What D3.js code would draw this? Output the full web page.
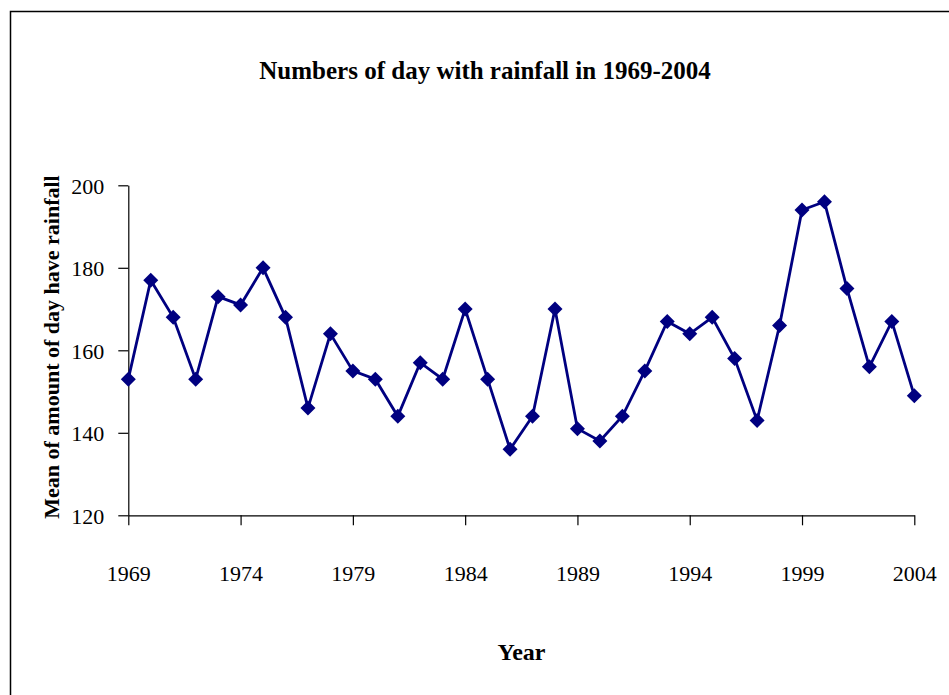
<!DOCTYPE html>
<html>
<head>
<meta charset="utf-8">
<script src="https://cdn.jsdelivr.net/npm/d3@7"></script>
<style>
  html, body { margin: 0; padding: 0; background: #fff; }
  svg { display: block; }
  text { font-family: "Liberation Serif", "Times New Roman", serif; fill: #000; }
</style>
</head>
<body>
<svg id="chart" width="949" height="695"></svg>
<script>
const years = d3.range(1969, 2005);
const values = [153, 177, 168, 153, 173, 171, 180, 168, 146, 164,
                155, 153, 144, 157, 153, 170, 153, 136, 144, 170,
                141, 138, 144, 155, 167, 164, 168, 158, 143, 166,
                194, 196, 175, 156, 167, 149];
const xTicks = [1969, 1974, 1979, 1984, 1989, 1994, 1999, 2004];
const yTicks = [120, 140, 160, 180, 200];
const titleText = "Numbers of day with rainfall in 1969-2004";
const xTitle = "Year";
const yTitle = "Mean of amount of day have rainfall";

const data = years.map((y, i) => ({ year: y, value: values[i] }));

const svg = d3.select("#chart");
const W = 949, H = 695;

// outer frame
svg.append("rect")
  .attr("x", 10.5).attr("y", 11.5)
  .attr("width", W + 20).attr("height", H + 20)
  .attr("fill", "none").attr("stroke", "#000").attr("stroke-width", 1.5);

const x = d3.scaleLinear().domain([1969, 2004]).range([128.3, 914.3]);
const y = d3.scaleLinear().domain([120, 200]).range([515.3, 185.3]);

// y axis
const yAxis = svg.append("g")
  .attr("transform", `translate(${x.range()[0]},0)`)
  .call(d3.axisLeft(y).tickValues(yTicks).tickSize(10).tickSizeOuter(0).tickPadding(14).tickFormat(d3.format("d")));
yAxis.select(".domain").attr("stroke", "#000").attr("stroke-width", 1.2);
yAxis.selectAll(".tick line").attr("stroke", "#000").attr("stroke-width", 1.2);
yAxis.selectAll(".tick text")
  .style("font-family", '"Liberation Serif", serif')
  .style("font-size", "22px").attr("dy", "0.35em");

// x axis
const xAxis = svg.append("g")
  .attr("transform", `translate(0,${y.range()[0]})`)
  .call(d3.axisBottom(x).tickValues(xTicks).tickSize(10).tickSizeOuter(0).tickFormat(d3.format("d")));
xAxis.select(".domain").attr("stroke", "#000").attr("stroke-width", 1.2);
xAxis.selectAll(".tick line").attr("stroke", "#000").attr("stroke-width", 1.2);
xAxis.selectAll(".tick text")
  .style("font-family", '"Liberation Serif", serif')
  .style("font-size", "22px").attr("y", 66).attr("dy", 0);

// line
svg.append("path")
  .datum(data)
  .attr("fill", "none")
  .attr("stroke", "#000080")
  .attr("stroke-width", 2.8)
  .attr("stroke-linejoin", "miter")
  .attr("d", d3.line().x(d => x(d.year)).y(d => y(d.value)));

// diamond markers
svg.append("g").selectAll("path")
  .data(data).join("path")
  .attr("transform", d => `translate(${x(d.year)},${y(d.value)})`)
  .attr("d", "M0,-7.5L7.5,0L0,7.5L-7.5,0Z")
  .attr("fill", "#000080");

// titles
svg.append("text")
  .attr("x", 485).attr("y", 79)
  .attr("text-anchor", "middle")
  .style("font-size", "25px").style("font-weight", "bold")
  .text(titleText);

svg.append("text")
  .attr("x", 521.5).attr("y", 660)
  .attr("text-anchor", "middle")
  .style("font-size", "24px").style("font-weight", "bold")
  .text(xTitle);

svg.append("text")
  .attr("transform", "translate(51,347) rotate(-90)")
  .attr("text-anchor", "middle")
  .attr("dy", "0.35em")
  .style("font-size", "22px").style("font-weight", "bold")
  .text(yTitle);
</script>
</body>
</html>
